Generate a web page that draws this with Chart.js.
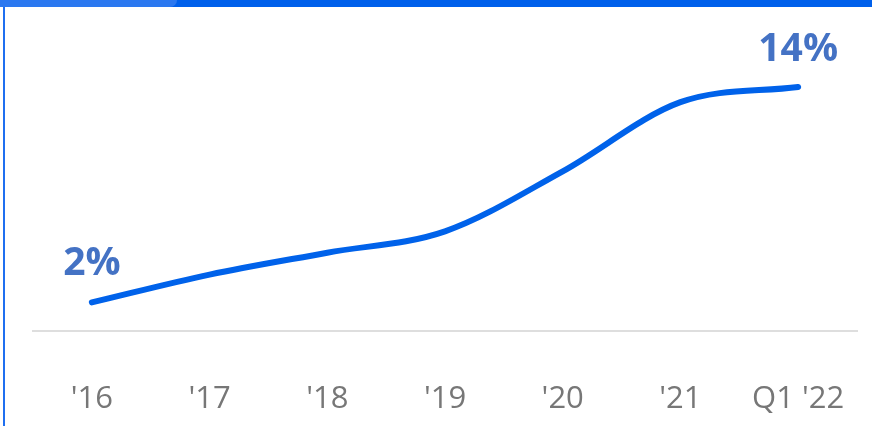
<!DOCTYPE html>
<html>
<head>
<meta charset="utf-8">
<script src="https://cdn.jsdelivr.net/npm/chart.js@4"></script>
<style>
  body { margin: 0; background: #fff; }
  .wrap { position: relative; width: 872px; height: 426px; overflow: hidden; }
  .chart-box { position: absolute; left: 0; top: 0; width: 872px; height: 426px; }
  .bar { position: absolute; left: 0; top: 0; width: 872px; height: 7px; background: #0060eb; }
  .bar-light { position: absolute; left: 0; top: 0; width: 177px; height: 7px; background: #2b78f0; border-radius: 0 0 8px 0; }
  .side { position: absolute; left: 3px; top: 7px; width: 2px; height: 419px; background: #1f6ff0; }
</style>
</head>
<body>
<div class="wrap">
  <div class="chart-box"><canvas id="graph"></canvas></div>
  <div class="bar"></div>
  <div class="bar-light"></div>
  <div class="side"></div>
</div>
<script>
// tick labels and share values
const years = ["'16", "'17", "'18", "'19", "'20", "'21", "Q1 '22"];
const shareValues = [2.0, 3.55, 4.77, 5.96, 9.3, 13.15, 14.0];
const endLabels = ["2%", "14%"];

//draw the first and last value above the line
const endLabelPlugin = {
    id: 'endLabels',
    afterDatasetsDraw(chart) {
        const ctx = chart.ctx;
        const points = chart.getDatasetMeta(0).data;
        const first = points[0];
        const last = points[points.length - 1];
        ctx.save();
        ctx.font = "bold 39px 'Open Sans'";
        ctx.fillStyle = '#4472c4';
        ctx.textAlign = 'center';
        ctx.textBaseline = 'alphabetic';
        ctx.fillText(endLabels[0], first.x, first.y - 27);
        ctx.fillText(endLabels[1], last.x, last.y - 26);
        ctx.restore();
    }
};

const graph = document.getElementById("graph");

new Chart(graph, {
    type: 'line',
    data: {
        labels: years,
        datasets: [{
            data: shareValues,
            borderColor: '#0062ea',
            borderWidth: 6,
            borderCapStyle: 'round',
            borderJoinStyle: 'round',
            cubicInterpolationMode: 'monotone',
            pointRadius: 0,
            fill: false
        }]
    },
    options: {
        responsive: true,
        maintainAspectRatio: false,
        animation: false,
        layout: {
            padding: { top: 51, left: 33, right: 15, bottom: 8 }
        },
        plugins: {
            legend: { display: false },
            tooltip: { enabled: false }
        },
        scales: {
            x: {
                offset: true,
                // ticks are not drawn, tickLength only pushes the labels down
                grid: { display: false, drawTicks: true, tickLength: 50 },
                border: { display: true, color: '#dedede', width: 2 },
                ticks: {
                    color: '#777777',
                    padding: 0,
                    maxRotation: 0,
                    autoSkip: false,
                    font: { family: "'Open Sans'", size: 31 }
                }
            },
            y: {
                display: false,
                min: 0.42,
                max: 16
            }
        }
    },
    plugins: [endLabelPlugin]
});
</script>
</body>
</html>
